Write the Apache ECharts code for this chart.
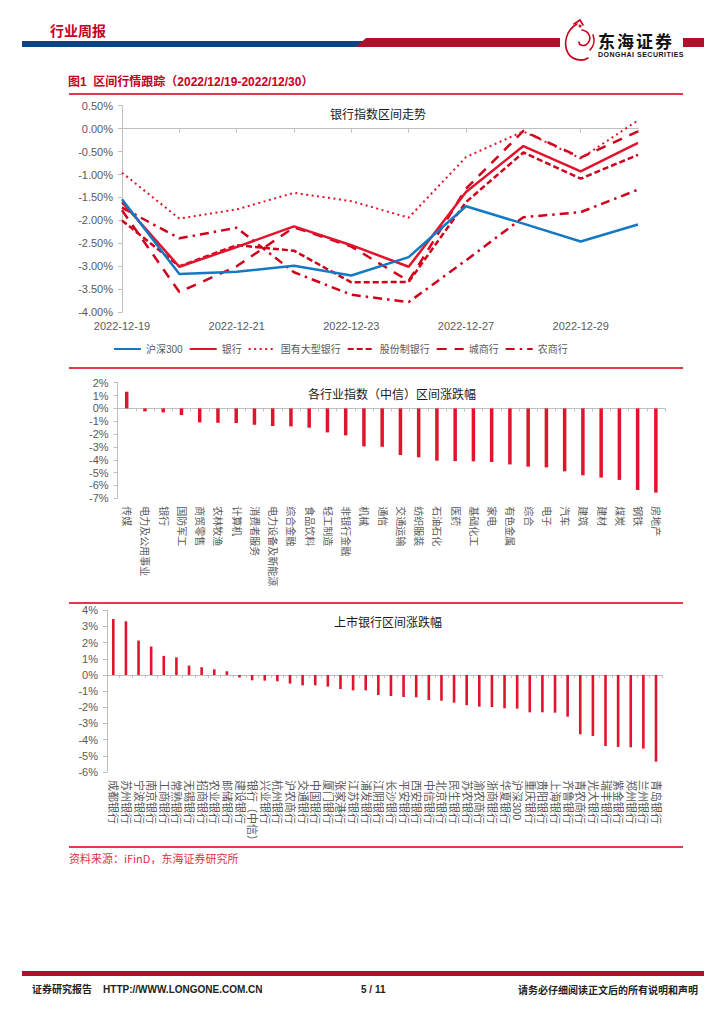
<!DOCTYPE html>
<html>
<head>
<meta charset="utf-8">
<script src="https://cdn.jsdelivr.net/npm/echarts/dist/echarts.min.js"></script>
<style>
  html, body { margin: 0; padding: 0; background: #fff; }
  body { width: 724px; height: 1024px; position: relative; overflow: hidden;
         font-family: "Liberation Sans", "Noto Sans CJK SC", sans-serif; }
  #chart { position: absolute; left: 0; top: 0; width: 724px; height: 1024px; }
  .abs { position: absolute; white-space: nowrap; z-index: 2; line-height: 1; }
</style>
</head>
<body>
<div id="chart"></div>

<!-- header -->
<div class="abs" style="left:50px;top:23px;font-size:14px;font-weight:bold;color:#C8001E;font-family:'Noto Sans CJK SC',sans-serif;">行业周报</div>
<svg class="abs" style="left:0;top:0" width="724" height="70">
  <rect x="22" y="41" width="342" height="6" fill="#0E4384"/>
  <polygon points="356,47 366,38 560,38 560,47" fill="#B0102A"/>
  <rect x="683" y="38" width="21" height="9" fill="#B0102A"/>
  <g fill="none" stroke="#C8001E" stroke-width="1.6" stroke-linecap="round">
    <path d="M577,24 C566,30 563,44 568,53 C572,60 582,62 588,58"/>
    <path d="M582,30 C589,31 592,38 588,43 C585,47 579,46 579,42"/>
    <path d="M574,24 L580,20 L583,25"/>
    <path d="M590,50 C594,46 595,40 593,35"/>
  </g>
  <circle cx="580" cy="26" r="1.5" fill="#C8001E"/>
</svg>
<div class="abs" style="left:598px;top:32px;font-size:17px;font-weight:bold;color:#111;font-family:'Noto Sans CJK SC',sans-serif;letter-spacing:2px;">东海证券</div>
<div class="abs" style="left:598px;top:51px;font-size:7px;font-weight:bold;color:#111;letter-spacing:0.5px;">DONGHAI SECURITIES</div>

<div class="abs" style="left:68px;top:76px;font-size:12px;font-weight:bold;color:#C8001E;font-family:'Liberation Sans','Noto Sans CJK SC',sans-serif;">图1&nbsp;&nbsp;区间行情跟踪（2022/12/19-2022/12/30）</div>

<!-- separators -->
<div class="abs" style="left:69px;top:93px;width:614px;height:1.5px;background:#E23A4A;"></div>
<div class="abs" style="left:69px;top:367px;width:614px;height:1.5px;background:#E23A4A;"></div>
<div class="abs" style="left:69px;top:602px;width:614px;height:1.5px;background:#E23A4A;"></div>
<div class="abs" style="left:69px;top:846px;width:614px;height:1.5px;background:#E23A4A;"></div>

<div class="abs" style="left:69px;top:853px;font-size:11px;color:#E0303F;font-family:'Noto Sans CJK SC',sans-serif;">资料来源：iFinD，东海证券研究所</div>

<!-- footer -->
<div class="abs" style="left:22px;top:971px;width:682px;height:5px;background:#B0102A;"></div>
<div class="abs" style="left:32px;top:985px;font-size:10px;font-weight:bold;color:#222;">证券研究报告&nbsp;&nbsp;&nbsp;&nbsp;HTTP://WWW.LONGONE.COM.CN</div>
<div class="abs" style="left:361px;top:985px;font-size:10px;font-weight:bold;color:#222;">5 / 11</div>
<div class="abs" style="right:26px;top:985px;font-size:10px;font-weight:bold;color:#222;font-family:'Noto Sans CJK SC',sans-serif;">请务必仔细阅读正文后的所有说明和声明</div>

<script>
// ---------- Chart 1: 银行指数区间走势 ----------
const dates = ['2022-12-19','2022-12-20','2022-12-21','2022-12-22','2022-12-23','2022-12-26','2022-12-27','2022-12-28','2022-12-29','2022-12-30'];
const hs300      = [-1.54,-3.17,-3.12,-2.99,-3.20,-2.80,-1.69,-2.07,-2.46,-2.09];
const bankIdx    = [-1.60,-3.01,-2.58,-2.13,-2.54,-3.01,-1.38,-0.38,-0.93,-0.31];
const bigBank    = [-0.96,-1.96,-1.76,-1.40,-1.58,-1.94,-0.62,-0.06,-0.65,0.18];
const jointStock = [-2.00,-3.00,-2.54,-2.66,-3.35,-3.34,-1.60,-0.52,-1.09,-0.57];
const cityBank   = [-1.78,-3.56,-3.00,-2.15,-2.57,-3.32,-1.31,-0.05,-0.63,-0.06];
const ruralBank  = [-1.72,-2.39,-2.16,-3.13,-3.62,-3.78,-2.87,-1.93,-1.82,-1.33];
const lineNames  = ['沪深300','银行','国有大型银行','股份制银行','城商行','农商行'];

// ---------- Chart 2: 各行业指数（中信）区间涨跌幅 ----------
const industries = ['传媒','电力及公用事业','银行','国防军工','商贸零售','农林牧渔','计算机','消费者服务','电力设备及新能源','综合金融','食品饮料','轻工制造','非银行金融','机械','通信','交通运输','纺织服装','石油石化','医药','基础化工','家电','有色金属','综合','电子','汽车','建筑','建材','煤炭','钢铁','房地产'];
const industryChg = [1.30,-0.23,-0.31,-0.52,-1.09,-1.12,-1.14,-1.27,-1.37,-1.40,-1.50,-1.87,-2.10,-2.96,-2.99,-3.63,-3.81,-4.07,-4.10,-4.12,-4.17,-4.36,-4.54,-4.59,-4.90,-5.21,-5.39,-5.57,-6.35,-6.56];

// ---------- Chart 3: 上市银行区间涨跌幅 ----------
const banks = ['成都银行','苏州银行','宁波银行','南京银行','工商银行','常熟银行','无锡银行','招商银行','农业银行','邮储银行','建设银行','银行（中信）','兴业银行','杭州银行','沪农商行','交通银行','中国银行','厦门银行','张家港行','江苏银行','浦发银行','江阴银行','长沙银行','平安银行','西安银行','中信银行','北京银行','民生银行','苏农银行','渝农商行','浙商银行','华夏银行','沪深300','重庆银行','贵阳银行','上海银行','齐鲁银行','青农商行','光大银行','瑞丰银行','紫金银行','郑州银行','兰州银行','青岛银行'];
const bankChg = [3.46,3.32,2.13,1.76,1.18,1.09,0.58,0.48,0.35,0.23,-0.16,-0.33,-0.35,-0.39,-0.53,-0.64,-0.64,-0.72,-0.87,-0.95,-0.95,-1.24,-1.30,-1.36,-1.38,-1.55,-1.59,-1.71,-1.87,-1.96,-1.98,-2.06,-2.08,-2.31,-2.31,-2.33,-2.58,-3.67,-3.77,-4.39,-4.45,-4.47,-4.55,-5.36];

const FONT = '"Liberation Sans", "Noto Sans CJK SC", sans-serif';
const GRAY = '#595959';
const AXIS = '#BFBFBF';
const RED = '#E0142C';
const RED2 = '#D0021B';
const BLUE = '#1479C4';

const chart = echarts.init(document.getElementById('chart'), null, { renderer: 'svg', width: 724, height: 1024 });

function labelAxis(gridIndex, data, opts) {
  return Object.assign({
    type: 'category', gridIndex, data, position: 'bottom',
    axisLine: { show: false, onZero: false }, axisTick: { show: false },
    splitLine: { show: false }
  }, opts);
}
function zeroAxis(gridIndex, data, boundaryGap, tickLen) {
  return {
    type: 'category', gridIndex, data, boundaryGap, position: 'top',
    axisLine: { show: true, onZero: true, lineStyle: { color: AXIS, width: 1 } },
    axisTick: { show: true, inside: true, length: tickLen, interval: 0, lineStyle: { color: AXIS } },
    axisLabel: { show: false }, splitLine: { show: false }
  };
}
function valAxis(gridIndex, min, max, interval, fmt) {
  return {
    type: 'value', gridIndex, min, max, interval,
    axisLine: { show: true, lineStyle: { color: AXIS } },
    axisTick: { show: true, length: 4, lineStyle: { color: AXIS } },
    splitLine: { show: false },
    axisLabel: { color: GRAY, fontSize: 11, fontFamily: FONT, margin: 9, formatter: fmt }
  };
}

const lineStyles = [
  { color: BLUE, width: 2.5, type: 'solid' },
  { color: RED, width: 2.5, type: 'solid' },
  { color: RED, width: 2, type: [2, 3.5] },
  { color: RED2, width: 2.5, type: [6, 3] },
  { color: RED2, width: 2.5, type: [10, 8] },
  { color: RED2, width: 2.5, type: [9, 5, 2.5, 5] }
];
const lineData = [hs300, bankIdx, bigBank, jointStock, cityBank, ruralBank];

const lineSeries = lineNames.map((n, i) => ({
  name: n, type: 'line', xAxisIndex: 0, yAxisIndex: 0,
  data: lineData[i], symbol: 'none', smooth: false,
  lineStyle: lineStyles[i], itemStyle: { color: lineStyles[i].color },
  z: 10 - i, animation: false
}));

const titleStyle = { fontSize: 12, fontWeight: 'normal', color: '#1a1a1a', fontFamily: '"Noto Sans CJK SC", sans-serif' };

chart.setOption({
  animation: false,
  title: [
    { text: '银行指数区间走势', left: 378, top: 107, textAlign: 'center', textStyle: titleStyle, padding: 0 },
    { text: '各行业指数（中信）区间涨跌幅', left: 392, top: 387, textAlign: 'center', textStyle: titleStyle, padding: 0 },
    { text: '上市银行区间涨跌幅', left: 388, top: 615, textAlign: 'center', textStyle: titleStyle, padding: 0 }
  ],
  legend: {
    data: lineNames, left: 113, top: 344, itemWidth: 27, itemHeight: 12, itemGap: 6,
    itemStyle: { opacity: 0 },
    textStyle: { color: GRAY, fontSize: 10, fontFamily: FONT }, padding: 0
  },
  grid: [
    { left: 122, top: 105.7, width: 516, height: 206.5 },
    { left: 117.6, top: 382.7, width: 547.4, height: 115.6 },
    { left: 107, top: 610.3, width: 555.3, height: 161.7 }
  ],
  xAxis: [
    labelAxis(0, dates, { boundaryGap: false,
      axisLabel: { interval: 1, color: GRAY, fontSize: 11, fontFamily: FONT, margin: 8 } }),
    zeroAxis(0, dates, false, 4),
    labelAxis(1, industries, { boundaryGap: true,
      axisLabel: { interval: 0, rotate: -90, color: GRAY, fontSize: 10, fontFamily: FONT, margin: 8 } }),
    zeroAxis(1, industries, true, 3),
    labelAxis(2, banks, { boundaryGap: true,
      axisLabel: { interval: 0, rotate: -90, color: GRAY, fontSize: 11, fontFamily: FONT, margin: 8 } }),
    zeroAxis(2, banks, true, 3)
  ],
  yAxis: [
    valAxis(0, -4, 0.5, 0.5, v => v.toFixed(2) + '%'),
    valAxis(1, -7, 2, 1, v => Math.round(v) + '%'),
    valAxis(2, -6, 4, 1, v => Math.round(v) + '%')
  ],
  series: lineSeries.concat([
    { name: '行业涨跌幅', type: 'bar', xAxisIndex: 2, yAxisIndex: 1, data: industryChg,
      barWidth: 3.5, itemStyle: { color: RED }, animation: false },
    { name: '银行涨跌幅', type: 'bar', xAxisIndex: 4, yAxisIndex: 2, data: bankChg,
      barWidth: 2.6, itemStyle: { color: RED }, animation: false }
  ])
});
</script>
</body>
</html>
